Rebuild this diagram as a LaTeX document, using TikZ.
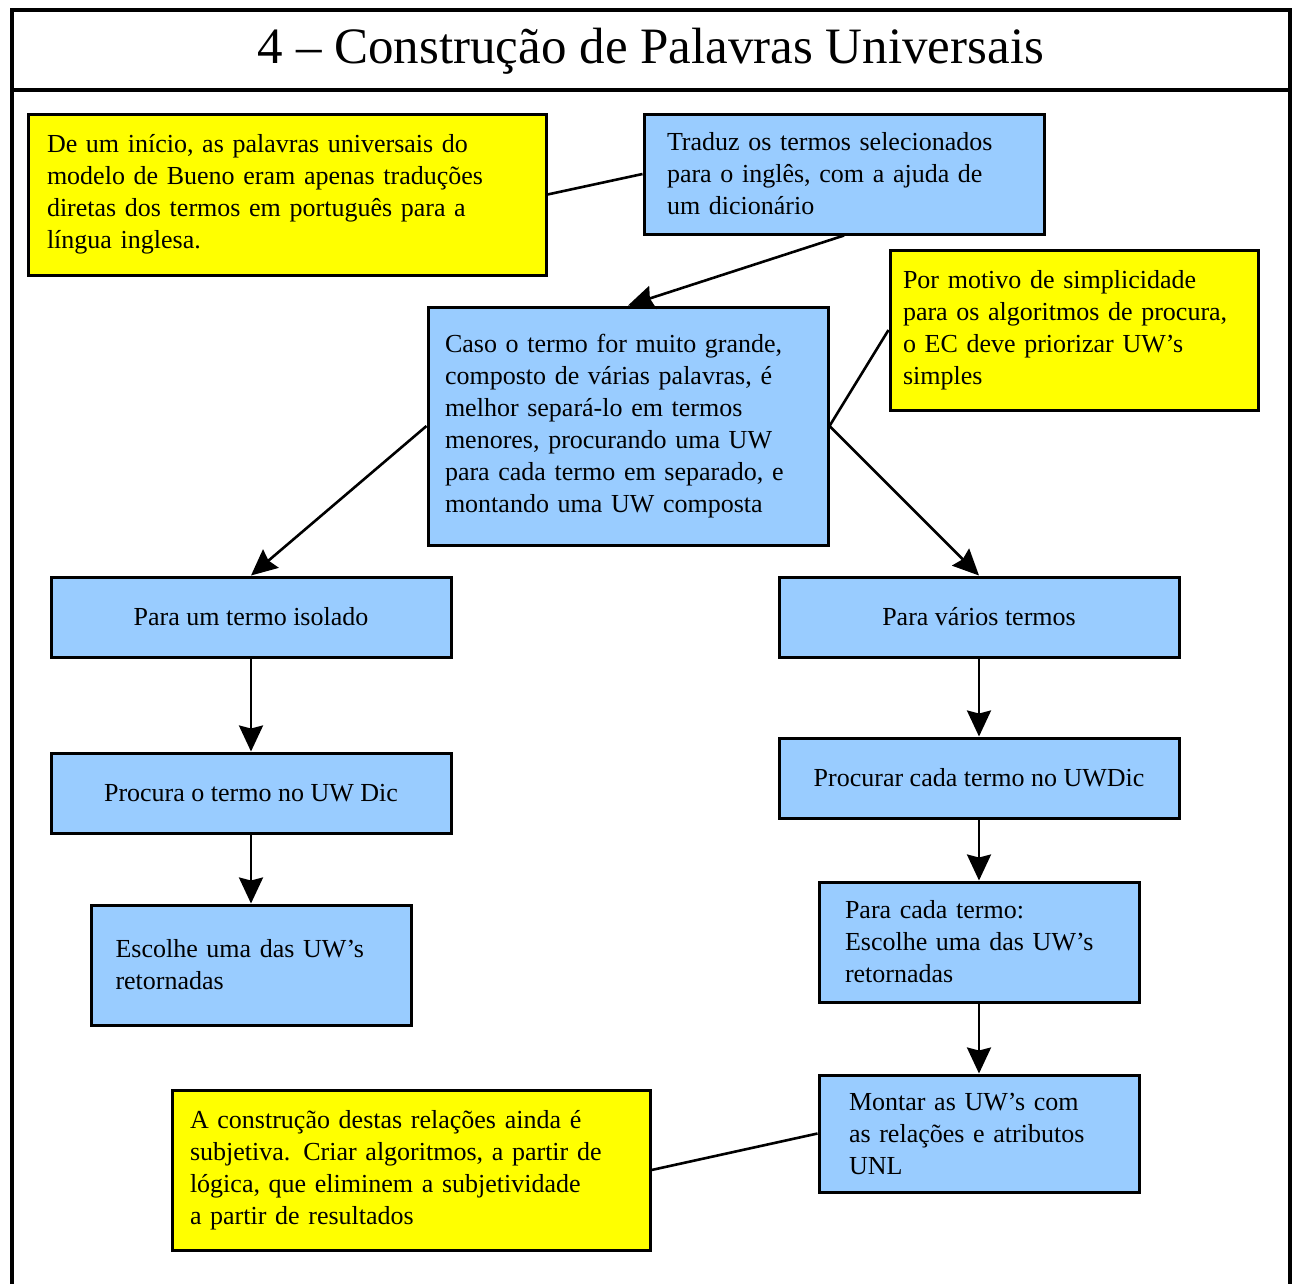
\documentclass[tikz,border=0pt]{standalone}
\usepackage{fontspec}
\setmainfont{Liberation Serif}
\usetikzlibrary{positioning,arrows.meta}
\definecolor{uwblue}{HTML}{99CCFF}
\definecolor{notayel}{HTML}{FFFF00}
\tikzset{
  uwbox/.style={draw, line width=3pt, fill=uwblue, inner ysep=0pt},
  nota/.style={draw, line width=3pt, fill=notayel, inner ysep=0pt},
  seta/.style={line width=2.6pt, -{Stealth[length=26pt, width=24pt, inset=3pt]}},
  liga/.style={line width=2.6pt}
}
\begin{document}
\begin{tikzpicture}[x=1pt, y=-1pt, font=\fontsize{26}{32}\selectfont]
  \useasboundingbox (0,0) rectangle (1295,1283);
  \fill[white] (0,0) rectangle (1295,1283);
  \draw[line width=3.2pt] (12,1295) -- (12,10) -- (1290,10) -- (1290,1295);
  \draw[line width=3.2pt] (12,90) -- (1290,90);
  \node (titulo) at (651,51) {\fontsize{51}{56}\selectfont 4 -- Construção de Palavras Universais};
  % notas amarelas
  \node[nota, minimum width=518pt, minimum height=161pt, text width=480pt, align=left] (nota1) at (287,194.5)
    {De um início, as palavras universais do\\ modelo de Bueno eram apenas traduções\\ diretas dos termos em português para a\\ língua inglesa.};
  \node[nota, minimum width=368pt, minimum height=160pt, text width=342pt, align=left] (nota2) at (1074,330)
    {Por motivo de simplicidade\\ para os algoritmos de procura,\\ o EC deve priorizar UW's\\ simples};
  \node[nota, minimum width=478pt, minimum height=160pt, text width=442pt, align=left] (nota3) at (411,1170)
    {A construção destas relações ainda é\\ subjetiva. Criar algoritmos, a partir de\\ lógica, que eliminem a subjetividade\\ a partir de resultados};
  % caixas azuis
  \node[uwbox, minimum width=400pt, minimum height=120pt, text width=354pt, align=left] (traduz) at (844,174)
    {Traduz os termos selecionados\\ para o inglês, com a ajuda de\\ um dicionário};
  \node[uwbox, minimum width=400pt, minimum height=238pt, text width=366pt, align=left] (caso) at (628,426)
    {Caso o termo for muito grande,\\ composto de várias palavras, é\\ melhor separá-lo em termos\\ menores, procurando uma UW\\ para cada termo em separado, e\\ montando uma UW composta};
  \node[uwbox, minimum width=400pt, minimum height=80pt, align=center] (isolado) at (251,617) {Para um termo isolado};
  \node[uwbox, minimum width=400pt, minimum height=80pt, align=center] (varios) at (979,617) {Para vários termos};
  \node[uwbox, minimum width=400pt, minimum height=80pt, align=center] (procura) at (251,793) {Procura o termo no UW Dic};
  \node[uwbox, minimum width=320pt, minimum height=120pt, text width=271pt, align=left] (escolhe) at (251,965)
    {Escolhe uma das UW's\\ retornadas};
  \node[uwbox, minimum width=400pt, minimum height=80pt, align=center] (procurar) at (979,778) {Procurar cada termo no UWDic};
  \node[uwbox, minimum width=320pt, minimum height=120pt, text width=268pt, align=left] (cada) at (979,942)
    {Para cada termo:\\ Escolhe uma das UW's\\ retornadas};
  \node[uwbox, minimum width=320pt, minimum height=117pt, text width=260pt, align=left] (montar) at (979,1133.5)
    {Montar as UW's com\\ as relações e atributos\\ UNL};
  % ligacoes
  \draw[liga] (nota1.east) -- (traduz.west);
  \draw[liga] (nota2.west) -- (caso.east);
  \draw[liga] (nota3.east) -- (montar.west);
  \draw[seta] (traduz.south) -- (caso.north);
  \draw[seta] (caso.west) -- (isolado.north);
  \draw[seta] (caso.east) -- (varios.north);
  \foreach \a/\b in {isolado/procura, procura/escolhe, varios/procurar, procurar/cada, cada/montar}
    \draw[seta] (\a.south) -- (\b.north);
\end{tikzpicture}
\end{document}
